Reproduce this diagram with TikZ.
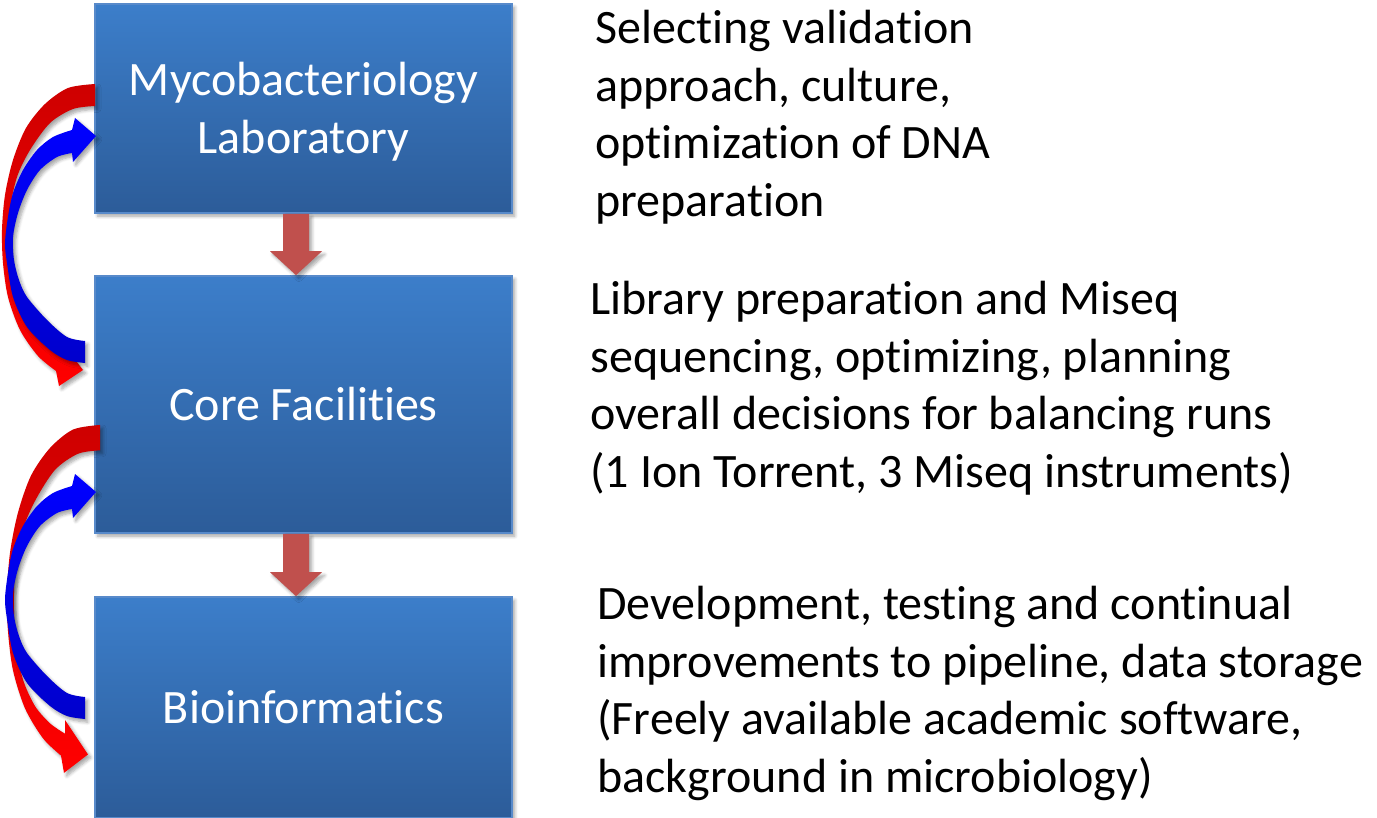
\documentclass[tikz,border=0pt]{standalone}
\usepackage{fontspec}
\setmainfont{Carlito}[RawFeature={-liga;-clig;-calt;-rlig;-dlig;-hlig}]
\usetikzlibrary{shadows.blur}

\definecolor{boxtop}{RGB}{60,126,202}
\definecolor{boxbot}{RGB}{44,92,153}
\definecolor{boxline}{RGB}{88,138,202}
\definecolor{flowred}{RGB}{192,80,77}
\definecolor{loopred}{RGB}{255,0,0}
\definecolor{loopreddark}{RGB}{206,0,0}
\definecolor{loopblue}{RGB}{0,0,255}
\definecolor{loopbluedark}{RGB}{0,0,205}

\tikzset{
  softshadow/.style={blur shadow={shadow xshift=1.4pt, shadow yshift=-1.6pt,
      shadow blur steps=6, shadow blur radius=1.6pt, shadow opacity=35}},
  stage/.style={rectangle, draw=boxline, line width=0.8pt,
      top color=boxtop, bottom color=boxbot, text=white,
      font=\fontsize{24pt}{28.8pt}\selectfont, align=center,
      minimum width=208.5pt, inner sep=0pt, softshadow},
  note/.style={anchor=north west, align=left, inner sep=0pt,
      font=\fontsize{24pt}{28.8pt}\selectfont, text=black},
  flowbody/.style={fill=flowred, softshadow},
  redloop/.style={top color=loopreddark, bottom color=loopred, softshadow},
  blueloop/.style={top color=loopblue, bottom color=loopbluedark, softshadow},
  % curved feedback band running down from the upper stage to the lower one
  redband/.pic={
    \path[redloop]
      plot[smooth] coordinates {(95,84) (68,88) (45,104) (26,128) (13,160)
        (5,195) (2,230) (3,263) (8,297) (20,330) (38,356) (56,371)}
      -- (59,386) -- (83,370) -- (60,340) -- (60,352)
      -- plot[smooth] coordinates {(60,352) (45,343) (30,328) (18,305)
        (11,275) (9,245) (10,210) (17,177) (30,150) (50,123) (73,109) (95,106)}
      -- cycle;
  },
  % curved feedback band running up from the lower stage to the upper one
  blueband/.pic={
    \path[blueloop]
      plot[smooth] coordinates {(85,363) (67,360) (50,350) (27,327) (13,297)
        (7,263) (5,243) (8,217) (13,193) (23,170) (37,150) (53,137) (72,130)}
      -- (75,118) -- (96,136) -- (73,162) -- (72,153)
      -- plot[smooth] coordinates {(72,153) (57,157) (40,170) (27,190)
        (18,213) (13,237) (14,260) (19,280) (27,297) (47,320) (67,337) (85,341)}
      -- cycle;
  },
}

\begin{document}
\begin{tikzpicture}[x=0.5pt,y=-0.5pt]
\useasboundingbox (0,0) rectangle (1377,818);

% the three stages
\node[stage, minimum height=104.5pt] (lab)  at (303.5,108.5) {\rule{0pt}{20pt}Mycobacteriology\\Laboratory};
\node[stage, minimum height=128.5pt] (core) at (303.5,404.5) {Core Facilities};
\node[stage, minimum height=110.5pt] (bio)  at (303.5,707.5) {Bioinformatics};

% block arrows between consecutive stages
\fill[flowbody] ([xshift=-10.25pt]lab.south) -- ([xshift=2.75pt]lab.south)
  -- ([xshift=2.75pt,yshift=12pt]core.north) -- ([xshift=9.25pt,yshift=12pt]core.north)
  -- ([xshift=-3.75pt]core.north)
  -- ([xshift=-16.75pt,yshift=12pt]core.north) -- ([xshift=-10.25pt,yshift=12pt]core.north)
  -- cycle;
\fill[flowbody] ([xshift=-10.25pt]core.south) -- ([xshift=2.75pt]core.south)
  -- ([xshift=2.75pt,yshift=12pt]bio.north) -- ([xshift=9.25pt,yshift=12pt]bio.north)
  -- ([xshift=-3.75pt]bio.north)
  -- ([xshift=-16.75pt,yshift=12pt]bio.north) -- ([xshift=-10.25pt,yshift=12pt]bio.north)
  -- cycle;

% feedback loops on the left
\pic {redband};
\pic {blueband};
\pic[shift={(5,328.2)}, yscale=1.152] {redband};
\pic[shift={(0,356)}] {blueband};

% descriptions
\node[note] (n1) at (595,10) {Selecting validation\\approach, culture,\\optimization of DNA\\preparation};
\node[note] (n2) at (590,281) {Library preparation and Miseq\\sequencing, optimizing, planning\\overall decisions for balancing runs\\(1 Ion Torrent, 3 Miseq instruments)};
\node[note] (n3) at (597,586) {Development, testing and continual\\improvements to pipeline, data storage\\(Freely available academic software,\\background in microbiology)};
\end{tikzpicture}
\end{document}
